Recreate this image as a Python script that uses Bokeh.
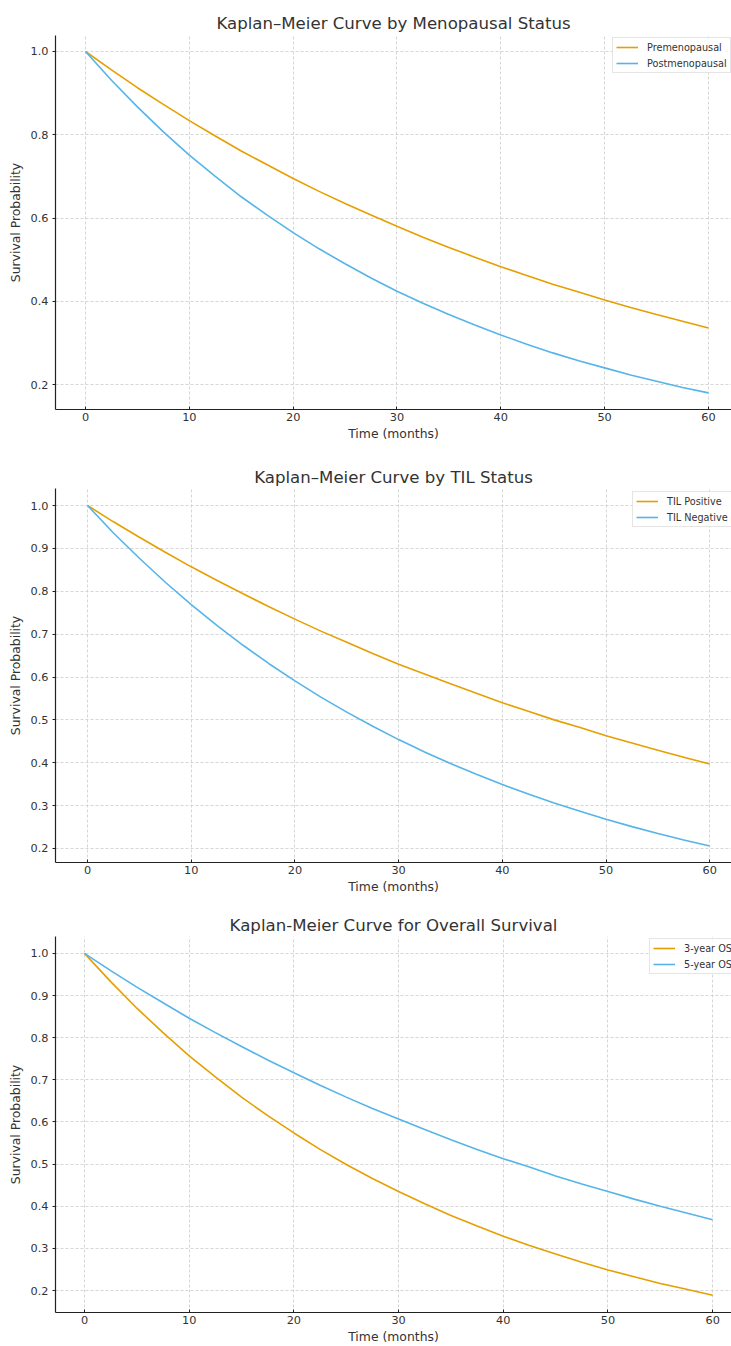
from bokeh.plotting import figure
from bokeh.layouts import column
from bokeh.models import (Range1d, FixedTicker, Legend, LegendItem,
                          PrintfTickFormatter)
from bokeh.embed import file_html
from bokeh.resources import INLINE

# ---- data ----
months = [0, 2.5, 5, 7.5, 10, 12.5, 15, 17.5, 20, 22.5, 25, 27.5, 30,
          32.5, 35, 37.5, 40, 42.5, 45, 47.5, 50, 52.5, 55, 57.5, 60]

premenopausal = [1.000, 0.956, 0.913, 0.873, 0.834, 0.797, 0.761, 0.728, 0.695, 0.664, 0.635, 0.607, 0.580,
                 0.554, 0.529, 0.506, 0.483, 0.462, 0.441, 0.422, 0.403, 0.385, 0.368, 0.352, 0.336]
postmenopausal = [1.000, 0.931, 0.867, 0.807, 0.751, 0.700, 0.651, 0.607, 0.565, 0.526, 0.490, 0.456, 0.424,
                  0.395, 0.368, 0.343, 0.319, 0.297, 0.276, 0.257, 0.240, 0.223, 0.208, 0.193, 0.180]

til_positive = [1.000, 0.962, 0.926, 0.891, 0.857, 0.825, 0.794, 0.764, 0.735, 0.707, 0.681, 0.655, 0.630,
                0.607, 0.584, 0.562, 0.540, 0.520, 0.500, 0.482, 0.463, 0.446, 0.429, 0.413, 0.397]
til_negative = [1.000, 0.936, 0.877, 0.821, 0.769, 0.720, 0.674, 0.631, 0.591, 0.553, 0.518, 0.485, 0.454,
                0.425, 0.398, 0.373, 0.349, 0.327, 0.306, 0.287, 0.268, 0.251, 0.235, 0.220, 0.206]

os_3year = [1.000, 0.933, 0.870, 0.812, 0.757, 0.707, 0.659, 0.615, 0.574, 0.535, 0.499, 0.466, 0.435,
            0.406, 0.378, 0.353, 0.329, 0.307, 0.287, 0.267, 0.249, 0.233, 0.217, 0.203, 0.189]
os_5year = [1.000, 0.959, 0.920, 0.883, 0.846, 0.812, 0.779, 0.747, 0.717, 0.687, 0.659, 0.632, 0.607,
            0.582, 0.558, 0.535, 0.513, 0.493, 0.472, 0.453, 0.435, 0.417, 0.400, 0.384, 0.368]

x_ticks = [0, 10, 20, 30, 40, 50, 60]
y_ticks_1 = [0.2, 0.4, 0.6, 0.8, 1.0]
y_ticks_2 = [0.2, 0.3, 0.4, 0.5, 0.6, 0.7, 0.8, 0.9, 1.0]

titles = ["Kaplan\u2013Meier Curve by Menopausal Status",
          "Kaplan\u2013Meier Curve by TIL Status",
          "Kaplan-Meier Curve for Overall Survival"]
labels = [("Premenopausal", "Postmenopausal"),
          ("TIL Positive", "TIL Negative"),
          ("3-year OS", "5-year OS")]

ORANGE = "#E69F00"
BLUE = "#56B4E9"
FONT = "DejaVu Sans"
TXT = "#333333"


def make_panel(title, series_a, series_b, names, yticks, xr, yr, height,
               border_top, border_bottom, border_left, legend_loc, title_standoff):
    p = figure(width=731, height=height, output_backend="svg", toolbar_location=None,
               x_range=Range1d(*xr), y_range=Range1d(*yr),
               min_border_left=border_left, min_border_right=0,
               min_border_top=border_top, min_border_bottom=border_bottom)
    p.outline_line_color = None
    p.background_fill_color = "white"
    p.border_fill_color = "white"

    p.title.text = title
    p.title.align = "center"
    p.title.text_font = FONT
    p.title.text_font_size = "16.6px"
    p.title.text_font_style = "normal"
    p.title.text_color = TXT
    p.title.standoff = title_standoff
    p.title.offset = 4

    for ax in (p.xaxis[0], p.yaxis[0]):
        ax.axis_line_color = "#222222"
        ax.axis_line_width = 1.2
        ax.major_tick_line_color = "#222222"
        ax.minor_tick_line_color = None
        ax.major_label_text_font = FONT
        ax.major_label_text_font_size = "11.3px"
        ax.major_label_text_color = TXT
        ax.axis_label_text_font = FONT
        ax.axis_label_text_font_size = "12.4px"
        ax.axis_label_text_font_style = "normal"
        ax.axis_label_text_color = TXT

    p.xaxis.ticker = FixedTicker(ticks=x_ticks)
    p.yaxis.ticker = FixedTicker(ticks=yticks)
    p.yaxis.formatter = PrintfTickFormatter(format="%.1f")
    p.xaxis.major_tick_in = 3
    p.xaxis.major_tick_out = 0
    p.yaxis.major_tick_in = 0
    p.yaxis.major_tick_out = 3
    p.xaxis.major_label_standoff = 3
    p.yaxis.major_label_standoff = 4
    p.xaxis.axis_label_standoff = 2
    p.yaxis.axis_label_standoff = 5
    p.xaxis.axis_label = "Time (months)"
    p.yaxis.axis_label = "Survival Probability"

    p.grid.grid_line_color = "#cccccc"
    p.grid.grid_line_width = 0.8
    p.grid.grid_line_dash = "3 2"

    ra = p.line(months, series_a, line_color=ORANGE, line_width=1.6)
    rb = p.line(months, series_b, line_color=BLUE, line_width=1.6)

    legend = Legend(items=[LegendItem(label=names[0], renderers=[ra]),
                           LegendItem(label=names[1], renderers=[rb])],
                    location=legend_loc)
    legend.label_text_font = FONT
    legend.label_text_font_size = "9.7px"
    legend.label_text_color = TXT
    legend.label_height = 12
    legend.glyph_height = 12
    legend.glyph_width = 22
    legend.label_standoff = 9
    legend.spacing = 4
    legend.padding = 3
    legend.margin = 0
    legend.border_line_color = "#cccccc"
    legend.border_line_width = 1
    legend.background_fill_alpha = 0.85
    p.add_layout(legend)
    return p


p1 = make_panel(titles[0], premenopausal, postmenopausal, labels[0], y_ticks_1,
                (-2.89, 62.22), (0.140, 1.0384), 455, 35, 46, 55, (557, 336), 5)
p2 = make_panel(titles[1], til_positive, til_negative, labels[1], y_ticks_2,
                (-3.09, 62.1), (0.1673, 1.0397), 448, 33, 41, 55, (577, 335), 3)
p3 = make_panel(titles[2], os_3year, os_5year, labels[2], y_ticks_2,
                (-2.77, 61.8), (0.148, 1.0401), 443, 33, 32, 55, (594, 338), 3)

layout = column(p1, p2, p3, spacing=0)
open("out.html", "w").write(file_html(layout, INLINE))
